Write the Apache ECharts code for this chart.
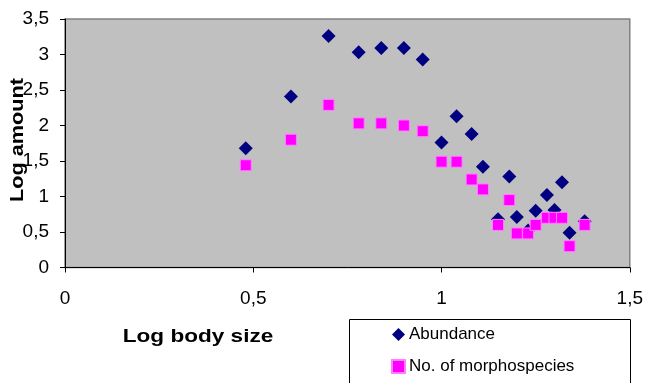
<!DOCTYPE html>
<html>
<head>
<meta charset="utf-8">
<script src="https://cdn.jsdelivr.net/npm/echarts@6/dist/echarts.min.js"></script>
<style>
html,body{margin:0;padding:0;background:#fff;}
#chart{width:646px;height:383px;}
</style>
</head>
<body>
<div id="chart"></div>
<script>
// Log body size (shared x values)
var logBodySize = [0.48, 0.60, 0.70, 0.78, 0.84, 0.90, 0.95, 1.00, 1.04, 1.08, 1.11, 1.15, 1.18, 1.20, 1.23, 1.25, 1.28, 1.30, 1.32, 1.34, 1.38];
// Log abundance
var abundance = [1.68, 2.41, 3.26, 3.03, 3.09, 3.09, 2.93, 1.76, 2.13, 1.88, 1.42, 0.68, 1.28, 0.71, 0.52, 0.80, 1.02, 0.81, 1.20, 0.49, 0.65];
// Log number of morphospecies
var morphospecies = [1.44, 1.80, 2.29, 2.03, 2.03, 2.00, 1.92, 1.49, 1.49, 1.24, 1.10, 0.60, 0.95, 0.48, 0.48, 0.60, 0.70, 0.70, 0.70, 0.30, 0.60];
var seriesNames = ['Abundance', 'No. of morphospecies'];
var xTitle = 'Log body size';
var yTitle = 'Log amount';

function pairs(xs, ys) { return xs.map(function (x, i) { return [x, ys[i]]; }); }
function comma(v) { return String(v).replace('.', ','); }

var chart = echarts.init(document.getElementById('chart'), null, {renderer: 'canvas'});
var FONT = '"Liberation Sans", Arial, sans-serif';
chart.setOption({
  animation: false,
  backgroundColor: '#ffffff',
  textStyle: {fontFamily: FONT},
  grid: {
    left: 65, right: 16, top: 19, bottom: 115.5,
    show: true, backgroundColor: '#c0c0c0', borderColor: '#808080', borderWidth: 1.5
  },
  xAxis: {
    type: 'value', min: 0, max: 1.5, interval: 0.5,
    axisLine: {show: true, onZero: false, lineStyle: {color: '#000', width: 1}},
    axisTick: {show: true, length: 5, lineStyle: {color: '#000'}},
    splitLine: {show: false},
    axisLabel: {color: '#000', fontSize: 19, fontFamily: FONT, margin: 22, formatter: comma}
  },
  yAxis: {
    type: 'value', min: 0, max: 3.5, interval: 0.5,
    axisLine: {show: true, onZero: false, lineStyle: {color: '#000', width: 1}},
    axisTick: {show: true, length: 5, lineStyle: {color: '#000'}},
    splitLine: {show: false},
    axisLabel: {color: '#000', fontSize: 19, fontFamily: FONT, margin: 16, formatter: comma}
  },
  legend: {
    orient: 'vertical', left: 350, top: 326,
    padding: [0, 0, 0, 41],
    itemWidth: 13, itemHeight: 13, itemGap: 15,
    textStyle: {color: '#000', fontSize: 17, fontFamily: FONT, padding: [0, 0, 0, -1]},
    data: [
      {name: seriesNames[0], icon: 'diamond'},
      {name: seriesNames[1], icon: 'rect'}
    ],
    z: 10
  },
  graphic: [
    {type: 'rect', z: 1, shape: {x: 349.5, y: 319.5, width: 281, height: 90},
     style: {fill: '#fff', stroke: '#000', lineWidth: 1}},
    {type: 'text', z: 2, x: 198, y: 337, scaleX: 1.22,
     style: {text: xTitle, fontFamily: FONT, fontWeight: 'bold', fontSize: 18.5, fill: '#000', textAlign: 'center', textVerticalAlign: 'middle'}},
    {type: 'text', z: 2, x: 18, y: 140, rotation: Math.PI / 2, scaleX: 1.14,
     style: {text: yTitle, fontFamily: FONT, fontWeight: 'bold', fontSize: 19, fill: '#000', textAlign: 'center', textVerticalAlign: 'middle'}}
  ],
  series: [
    {
      name: seriesNames[0], type: 'scatter', symbol: 'diamond', symbolSize: [14, 14],
      itemStyle: {color: '#000080', opacity: 1},
      data: pairs(logBodySize, abundance), z: 3
    },
    {
      name: seriesNames[1], type: 'scatter', symbol: 'rect', symbolSize: [11, 11],
      itemStyle: {color: '#ff00ff', borderColor: '#ff7fff', borderWidth: 1, opacity: 1},
      data: pairs(logBodySize, morphospecies), z: 4
    }
  ]
});
</script>
</body>
</html>
